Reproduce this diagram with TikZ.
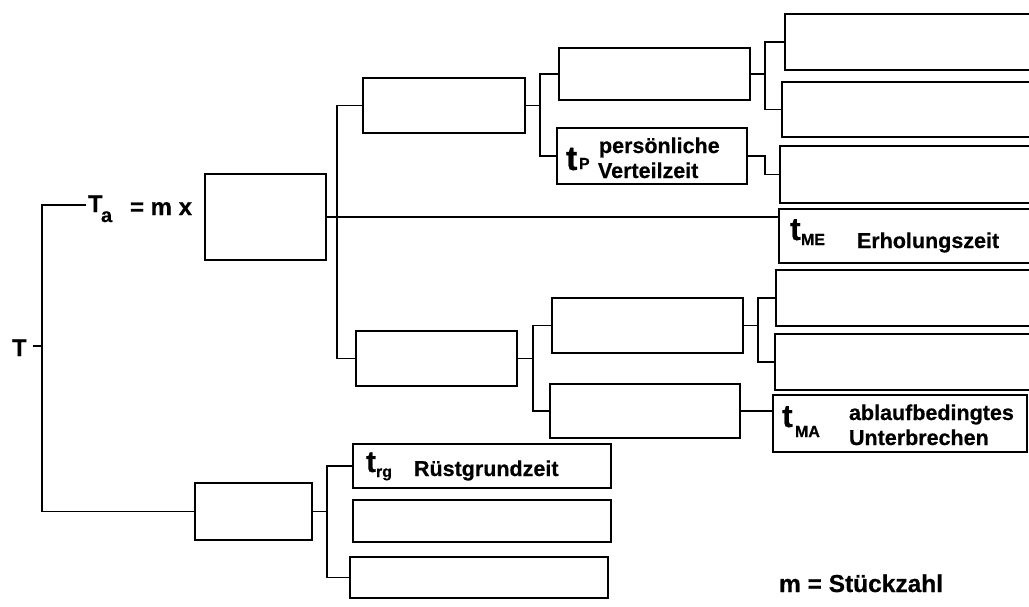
\documentclass[tikz,border=0pt]{standalone}
\usepackage{fontspec}
\setmainfont{Liberation Sans}[BoldFeatures={FakeBold=0.6}]
\newcommand{\myfs}[1]{\fontsize{#1}{#1}\selectfont}
\tikzset{
  bx/.style={draw, line width=1.2pt, inner sep=0pt, outer sep=0pt},
  conn/.style={line width=1.1pt},
  lbl/.style={inner sep=0pt, outer sep=0pt, anchor=base west, font=\bfseries\myfs{21.5}},
  big/.style={lbl, font=\bfseries\myfs{32}},
  sub/.style={lbl, font=\bfseries\myfs{16}}
}
\begin{document}
\begin{tikzpicture}[x=1pt,y=-1pt]
\useasboundingbox (0,0) rectangle (1029,606);
\clip (0,0) rectangle (1029,606);
% boxes
\node[bx, minimum width=121pt, minimum height=86pt] (A) at (265.5,217) {};
\node[bx, minimum width=117pt, minimum height=57pt] (B) at (253.5,511.5) {};
\node[bx, minimum width=162pt, minimum height=55pt] (D) at (444,105.5) {};
\node[bx, minimum width=161pt, minimum height=55pt] (C) at (436.5,358.5) {};
\node[bx, minimum width=191pt, minimum height=52pt] (E) at (654.5,74) {};
\node[bx, minimum width=190pt, minimum height=56pt] (tP) at (652,156) {};
\node[bx, minimum width=191pt, minimum height=55pt] (K) at (647.5,325.5) {};
\node[bx, minimum width=190pt, minimum height=54pt] (L) at (645,411) {};
\node[bx, minimum width=255pt, minimum height=56pt] (F) at (912.5,42) {};
\node[bx, minimum width=258pt, minimum height=55pt] (G) at (911,109.5) {};
\node[bx, minimum width=260pt, minimum height=57pt] (H) at (910,174.5) {};
\node[bx, minimum width=261pt, minimum height=54pt] (tME) at (909.5,236) {};
\node[bx, minimum width=264pt, minimum height=56pt] (I) at (908,298) {};
\node[bx, minimum width=265pt, minimum height=56pt] (J) at (907.5,362) {};
\node[bx, minimum width=254pt, minimum height=57pt] (tMA) at (900,423.5) {};
\node[bx, minimum width=258pt, minimum height=44pt] (R1) at (482,466) {};
\node[bx, minimum width=258pt, minimum height=42pt] (R2) at (482,521) {};
\node[bx, minimum width=258pt, minimum height=41pt] (R3) at (479,577.5) {};
% labels
\node[lbl, font=\bfseries\myfs{24}] (T) at (12,356) {T};
\node[lbl, font=\bfseries\myfs{24}] (Ta) at (88,212) {T};
\node[lbl, font=\bfseries\myfs{20}] (Tasub) at (101,222) {a};
\node[lbl, font=\bfseries\myfs{24}] (mx) at (130,215) {= m x};
\node[big, font=\bfseries\myfs{34}] (tPt) at (566,170) {t};
\node[sub] (tPs) at (579,169) {P};
\node[lbl] (tP1) at (599,153) {persönliche};
\node[lbl] (tP2) at (598,178) {Verteilzeit};
\node[big] (tMEt) at (790,240) {t};
\node[sub] (tMEs) at (801,245) {ME};
\node[lbl] (tME1) at (857,248) {Erholungszeit};
\node[big] (tMAt) at (782,427) {t};
\node[sub] (tMAs) at (795,437) {MA};
\node[lbl] (tMA1) at (849,420) {ablaufbedingtes};
\node[lbl] (tMA2) at (849,445) {Unterbrechen};
\node[big, font=\bfseries\myfs{30}] (trgt) at (366,472) {t};
\node[sub] (trgs) at (376,477) {rg};
\node[lbl] (trg1) at (414,476) {Rüstgrundzeit};
\node[lbl, font=\bfseries\myfs{24.5}] (mlbl) at (779,592) {m = Stückzahl};
% junction coordinates
\coordinate (j0) at (42,346);
\coordinate (ta) at (86,205);
\coordinate (v1) at (327,0);
\coordinate (v2) at (337,0);
\coordinate (v3) at (540,0);
\coordinate (v4) at (765,0);
\coordinate (v5) at (533,0);
\coordinate (v6) at (758,0);
% connectors
\draw[conn] ([xshift=6pt]T.east |- j0) -- (j0);
\draw[conn] (ta) -| (j0) |- (B.west);
\draw[conn] (B.east) -- (B.east -| v1);
\draw[conn] (R1.west) -- (R1.west -| v1) -- (R3.west -| v1) -- (R3.west);
\draw[conn] (D.west) -- (D.west -| v2) -- (C.west -| v2) -- (C.west);
\draw[conn] (A.east) -- (A.east -| tME.west);
\draw[conn] (D.east) -- (D.east -| v3);
\draw[conn] (E.west) -- (E.west -| v3) -- (tP.west -| v3) -- (tP.west);
\draw[conn] (E.east) -- (E.east -| v4);
\draw[conn] (F.west) -- (F.west -| v4) -- (G.west -| v4) -- (G.west);
\draw[conn] (tP.east) -- (tP.east -| v4) |- (H.west);
\draw[conn] (C.east) -- (C.east -| v5);
\draw[conn] (K.west) -- (K.west -| v5) -- (L.west -| v5) -- (L.west);
\draw[conn] (K.east) -- (K.east -| v6);
\draw[conn] (I.west) -- (I.west -| v6) -- (J.west -| v6) -- (J.west);
\draw[conn] (L.east) -- (L.east -| tMA.west);
\end{tikzpicture}
\end{document}
